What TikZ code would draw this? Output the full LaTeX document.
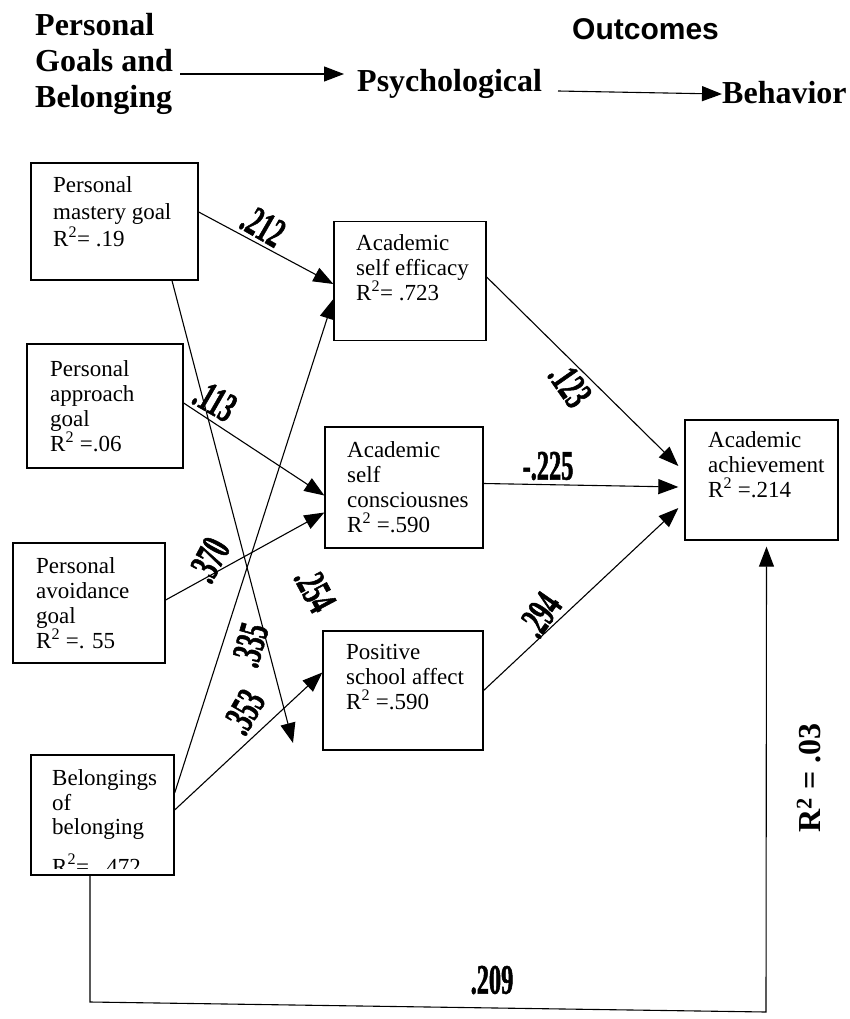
\documentclass[tikz,border=0pt]{standalone}
\usepackage{fontspec}
\setmainfont{Liberation Serif}
\newfontfamily\sansb{Liberation Sans}
\newfontfamily\labfont[FakeStretch=0.58,BoldFeatures={FakeBold=1.2}]{Liberation Serif}
\usetikzlibrary{arrows.meta}
\begin{document}
\begin{tikzpicture}[x=1pt,y=-1pt,
  box/.style={draw, line width=1.3pt, inner sep=0pt},
  txt/.style={font=\fontsize{23}{25}\selectfont, align=left, inner sep=0pt, anchor=north west},
  arr/.style={line width=1.1pt, -{Triangle[length=20pt,width=15pt]}},
  lab/.style={font=\labfont\bfseries\fontsize{42}{42}\selectfont, inner sep=0pt},
  head/.style={font=\bfseries\fontsize{32}{36}\selectfont, inner sep=0pt, align=left}]
\useasboundingbox (0,0) rectangle (850,1019);

% header
\node[head, anchor=north west] (hpg) at (35,13) {Personal\\Goals and\\Belonging};
\node[inner sep=0pt, anchor=base west, font=\sansb\bfseries\fontsize{30}{30}\selectfont] (hout) at (572,40) {Outcomes};
\node[head, anchor=base west] (hpsy) at (357,92) {Psychological};
\node[head, anchor=base west] (hbeh) at (722,104) {Behavior};
\coordinate (hs1) at (180,74);
\coordinate (he1) at (344,74);
\coordinate (hs2) at (558,91);
\draw[arr] (hs1) -- (he1);
\draw[arr] (hs2) -- ([yshift=-1pt]hbeh.west);

% boxes
\node[box, minimum width=167pt, minimum height=117pt] (B1) at (114.5,221.5) {};
\node[txt, font=\fontsize{23}{27}\selectfont] (t1) at (53,176.5) {Personal\\mastery goal\\R\textsuperscript{2}= .19};
\node[box, minimum width=156pt, minimum height=124pt] (B2) at (105,406) {};
\node[txt] (t2) at (50,360.5) {Personal\\approach\\goal\\R\textsuperscript{2} =.06};
\node[box, minimum width=152pt, minimum height=120pt] (B3) at (89,603) {};
\node[txt] (t3) at (36,557.5) {Personal\\avoidance\\goal\\R\textsuperscript{2} =. 55};
\node[box, minimum width=143pt, minimum height=120pt] (B4) at (102.5,815) {};
\node[txt, font=\fontsize{23}{24.5}\selectfont] (t4) at (52,769.5) {Belongings\\of\\belonging};
\begin{scope}
  \clip (31,755) rectangle (174,868);
  \node[inner sep=0pt, anchor=base west, font=\fontsize{23}{25}\selectfont] (t4b) at (52,874) {R\textsuperscript{2}=\ \ .472};
\end{scope}
\node[box, minimum width=152pt, minimum height=119pt] (E) at (410,281) {};
\node[txt] (tE) at (356,234.5) {Academic\\self efficacy\\R\textsuperscript{2}= .723};
\node[box, minimum width=158pt, minimum height=121pt] (C) at (404,487.5) {};
\node[txt] (tC) at (347,441.5) {Academic\\self\\consciousnes\\R\textsuperscript{2} =.590};
\node[box, minimum width=160pt, minimum height=119pt] (P) at (403,690.5) {};
\node[txt] (tP) at (346,644.5) {Positive\\school affect\\R\textsuperscript{2} =.590};
\node[box, minimum width=153pt, minimum height=120pt] (A) at (761.5,480) {};
\node[txt] (tA) at (708,431.5) {Academic\\achievement\\R\textsuperscript{2} =.214};

% connectors
\coordinate (t2tip) at (293,743);
\draw[arr] ([yshift=9.5pt]B1.east) -- ([yshift=-3pt]E.west);
\draw[arr] ([xshift=57.5pt]B1.south) -- (t2tip);
\draw[arr] ([yshift=3pt]B2.east) -- ([yshift=-8pt]C.west);
\draw[arr] ([yshift=3pt]B3.east) -- ([yshift=-25pt]C.west);
\draw[arr] ([yshift=22pt]B4.east) -- ([yshift=-18pt]E.west);
\draw[arr] ([yshift=5pt]B4.east) -- ([yshift=18pt]P.west);
\draw[arr] ([yshift=4pt]E.east) -- ([xshift=-6pt,yshift=14pt]A.west);
\draw[arr] ([yshift=4pt]C.east) -- ([xshift=-6pt,yshift=-7pt]A.west);
\draw[arr] (P.east) -- ([xshift=-6pt,yshift=-28pt]A.west);
\coordinate (c1) at (90,1002);
\coordinate (c2) at (766,1012);
\draw[arr] ([xshift=-12.5pt]B4.south) -- (c1) -- (c2) -- ([xshift=5pt,yshift=-6pt]A.south);

% labels
\node[lab, rotate=-30] (l212) at (263,226) {.212};
\node[lab, rotate=-62] (l254) at (315,590) {.254};
\node[lab, rotate=-30] (l113) at (215,401) {.113};
\node[lab, rotate=62] (l370) at (209,560) {.370};
\node[lab, rotate=74] (l335) at (250,645) {.335};
\node[lab, rotate=60] (l353) at (244,712) {.353};
\node[lab, rotate=-55] (l123) at (570,385) {.123};
\node[lab] (l225) at (548,466) {-.225};
\node[lab, rotate=55] (l294) at (540,615) {.294};
\node[lab] (l209) at (492,980) {.209};
\node[inner sep=0pt, rotate=90, font=\bfseries\fontsize{32}{32}\selectfont] (r03) at (809,778) {R\textsuperscript{2} = .03};
\end{tikzpicture}
\end{document}
